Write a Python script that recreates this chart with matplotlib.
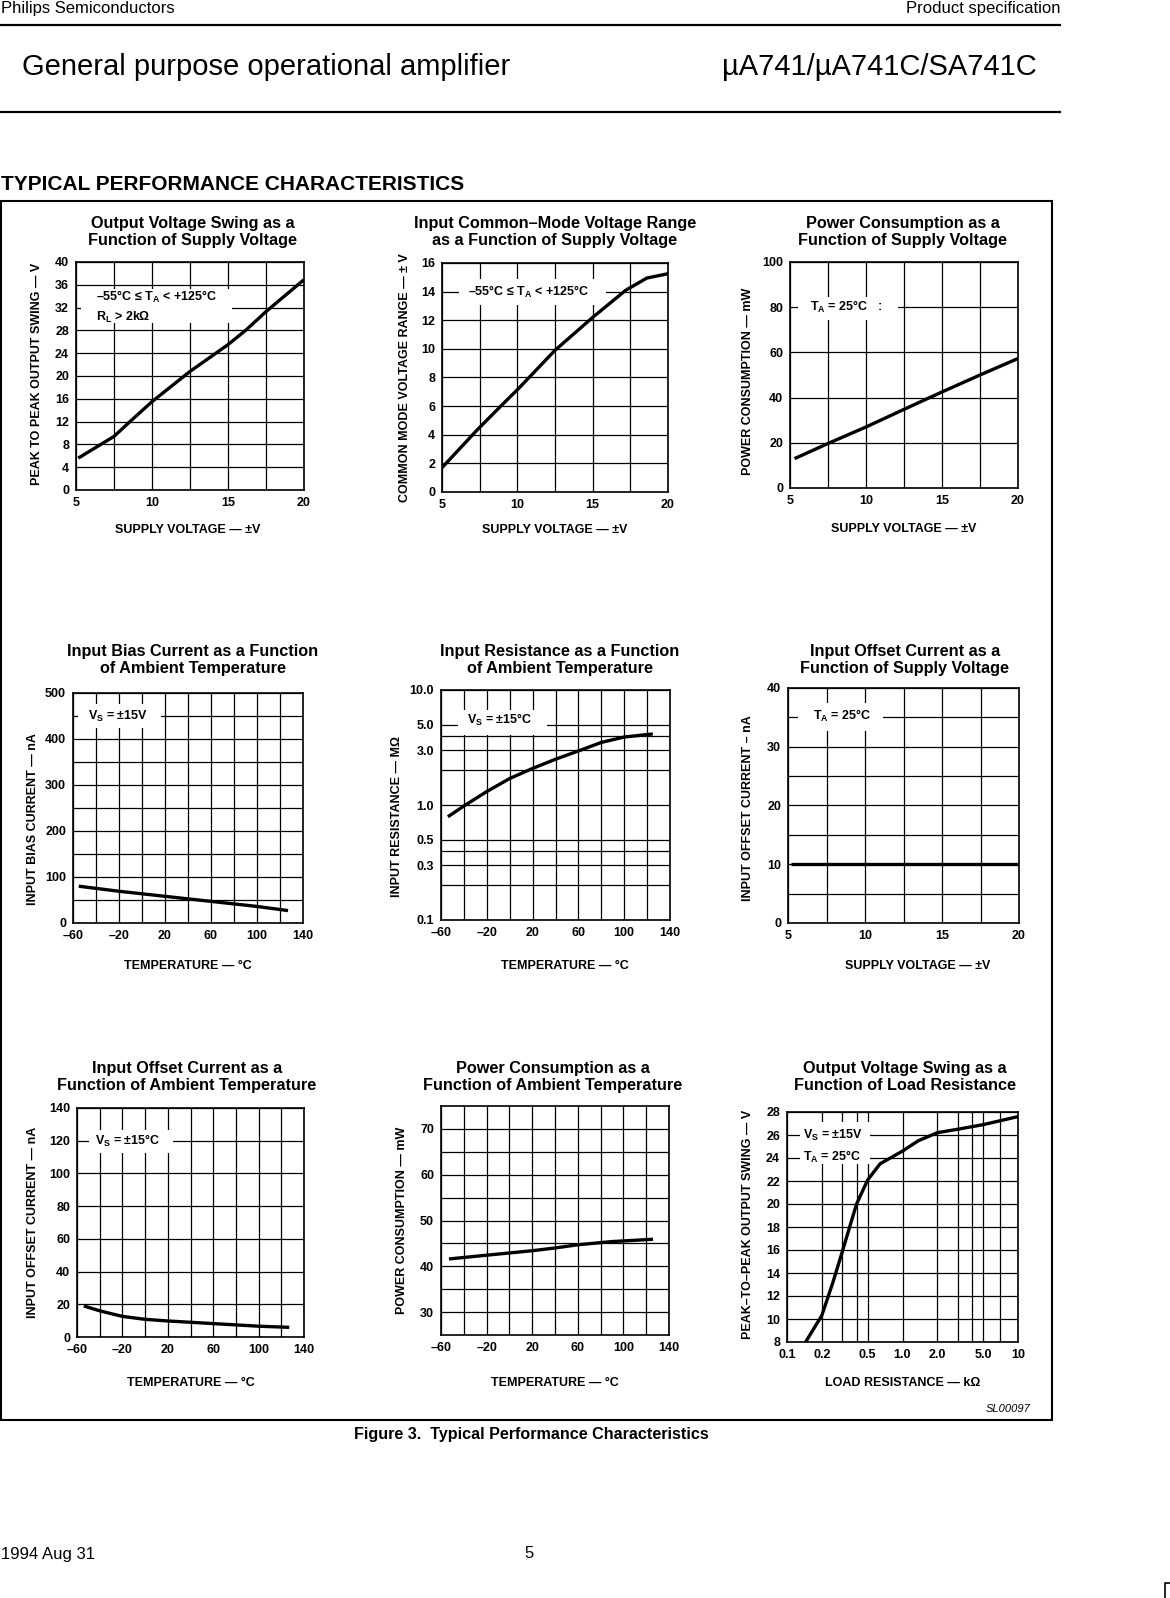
import matplotlib
matplotlib.use('Agg')
import matplotlib.pyplot as plt
from matplotlib.patches import Rectangle
from matplotlib.lines import Line2D
from matplotlib.ticker import FixedLocator, FixedFormatter, NullFormatter

plt.rcParams['font.family'] = ['Liberation Sans', 'DejaVu Sans']
plt.rcParams['font.weight'] = 'bold'
plt.rcParams['axes.labelweight'] = 'bold'
plt.rcParams['mathtext.fontset'] = 'custom'
plt.rcParams['mathtext.rm'] = 'Liberation Sans'
plt.rcParams['mathtext.bf'] = 'Liberation Sans:bold'
plt.rcParams['mathtext.it'] = 'Liberation Sans:italic'

# ---- data ----
# output swing vs supply voltage
swing_supply = [5.15, 7.5, 8.55, 10.0, 12.5, 15.0, 16.2, 17.5, 20.0]
swing_vpp = [5.6, 9.4, 12.0, 15.5, 20.8, 25.5, 28.1, 31.3, 36.9]
# common mode range vs supply voltage
cm_supply = [5.0, 7.3, 8.9, 10.1, 12.5, 15.0, 17.2, 18.6, 20.0]
cm_range = [1.7, 4.3, 6.0, 7.25, 9.9, 12.2, 14.1, 14.95, 15.25]
# power consumption vs supply voltage
pwr_supply = [5.3, 7.5, 10.0, 12.5, 15.0, 17.5, 20.0]
pwr_mw = [13.0, 19.7, 27.0, 34.8, 42.5, 50.0, 57.3]
# input bias current vs temperature
bias_temp = [-55, -20, 20, 60, 100, 127]
bias_na = [80, 69, 58, 47, 36, 27]
# input resistance vs temperature
res_temp = [-54, -40, -20, 0, 20, 40, 60, 80, 100, 125]
res_mohm = [0.79, 0.98, 1.31, 1.7, 2.08, 2.5, 2.95, 3.5, 3.9, 4.15]
# input offset current vs supply voltage
ios_supply = [5.2, 20.0]
ios_na = [10.0, 10.0]
# input offset current vs temperature
iost_temp = [-54, -40, -20, 0, 20, 60, 100, 127]
iost_na = [19.0, 16.0, 12.6, 10.8, 9.8, 8.2, 6.6, 5.9]
# power consumption vs temperature
pwrt_temp = [-53, -25, 20, 40, 60, 90, 126]
pwrt_mw = [41.6, 42.3, 43.4, 44.0, 44.7, 45.4, 45.9]
# output swing vs load resistance
load_kohm = [0.145, 0.2, 0.25, 0.3, 0.4, 0.5, 0.64, 1.0, 1.37, 2.0, 3.0, 5.0, 10.0]
load_swing = [8.0, 10.3, 13.2, 15.8, 20.0, 22.1, 23.5, 24.6, 25.5, 26.2, 26.5, 26.9, 27.6]

supply_ticks = [5, 10, 15, 20]
temp_ticks = [-60, -20, 20, 60, 100, 140]
temp_labels = ['–60', '–20', '20', '60', '100', '140']
res_ticks = [0.1, 0.3, 0.5, 1.0, 3.0, 5.0, 10.0]
res_labels = ['0.1', '0.3', '0.5', '1.0', '3.0', '5.0', '10.0']
load_ticks = [0.1, 0.2, 0.5, 1.0, 2.0, 5.0, 10.0]
load_labels = ['0.1', '0.2', '0.5', '1.0', '2.0', '5.0', '10']

W, H = 1170, 1598
fig = plt.figure(figsize=(W / 100, H / 100), dpi=100)


def fx(x):
    return x / W


def fy(y):
    return 1 - y / H


def panel(l, t, r, b):
    ax = fig.add_axes([fx(l), fy(b), (r - l) / W, (b - t) / H])
    ax.set_axisbelow(True)
    for s in ax.spines.values():
        s.set_linewidth(1.2)
    ax.tick_params(which='both', length=0, labelsize=9, pad=5)
    ax.grid(True, which='both', color='black', linewidth=0.9)
    return ax


def grid_x(ax, major, labels, lines):
    ax.xaxis.set_major_locator(FixedLocator(major))
    ax.xaxis.set_major_formatter(FixedFormatter(labels))
    ax.xaxis.set_minor_locator(FixedLocator(lines))
    ax.xaxis.set_minor_formatter(NullFormatter())


def grid_y(ax, major, labels, lines):
    ax.yaxis.set_major_locator(FixedLocator(major))
    ax.yaxis.set_major_formatter(FixedFormatter(labels))
    ax.yaxis.set_minor_locator(FixedLocator(lines))
    ax.yaxis.set_minor_formatter(NullFormatter())


def labels(ax, xl, yl, xpos, ypos):
    ax.set_xlabel(xl, fontsize=9, fontweight='bold')
    ax.set_ylabel(yl, fontsize=9, fontweight='bold')
    ax.xaxis.set_label_coords(*xpos)
    ax.yaxis.set_label_coords(*ypos)


def note(ax, x0, x1, y0, y1, txt, tx, ty, ha='center'):
    ax.add_patch(Rectangle((x0, y0), x1 - x0, y1 - y0, facecolor='white',
                           edgecolor='none', zorder=1))
    ax.text(tx, ty, txt, ha=ha, va='center', fontsize=9, zorder=4,
            linespacing=1.5)


def curve(ax, x, y):
    ax.plot(x, y, color='black', linewidth=2.4, solid_capstyle='butt',
            solid_joinstyle='round', zorder=3)


def title(cx, cy, txt):
    fig.text(fx(cx), fy(cy), txt, ha='center', va='center', fontsize=11.7,
             linespacing=1.15)


sv = 'SUPPLY VOLTAGE — ±V'
tc = 'TEMPERATURE — °C'
tas = r'T$_\mathbf{A}$'
vss = r'V$_\mathbf{S}$'

# ---- row 1 ----
ax = panel(76, 262, 304, 490)
ax.set_xlim(5, 20)
ax.set_ylim(0, 40)
grid_x(ax, supply_ticks, [str(v) for v in supply_ticks], [7.5, 10, 12.5, 15, 17.5])
grid_y(ax, list(range(0, 41, 4)), [str(v) for v in range(0, 41, 4)], list(range(4, 40, 4)))
note(ax, 5.35, 15.25, 29.3, 35.2,
     '–55°C ≤ ' + tas + ' < +125°C\nR$_\\mathbf{L}$ > 2kΩ', 6.3, 32.1, ha='left')
curve(ax, swing_supply, swing_vpp)
labels(ax, sv, 'PEAK TO PEAK OUTPUT SWING — V', (0.49, -0.149), (-0.145, 0.51))
title(193, 232, 'Output Voltage Swing as a\nFunction of Supply Voltage')

ax = panel(442, 263, 668, 492)
ax.set_xlim(5, 20)
ax.set_ylim(0, 16)
grid_x(ax, supply_ticks, [str(v) for v in supply_ticks], [7.5, 10, 12.5, 15, 17.5])
grid_y(ax, list(range(0, 17, 2)), [str(v) for v in range(0, 17, 2)], list(range(2, 16, 2)))
note(ax, 6.1, 15.9, 13.1, 14.9, '–55°C ≤ ' + tas + ' < +125°C', 10.75, 14.0)
curve(ax, cm_supply, cm_range)
labels(ax, sv, 'COMMON MODE VOLTAGE RANGE — ± V', (0.5, -0.14), (-0.137, 0.5))
title(555, 232, 'Input Common–Mode Voltage Range\nas a Function of Supply Voltage')

ax = panel(790, 262, 1018, 488)
ax.set_xlim(5, 20)
ax.set_ylim(0, 100)
grid_x(ax, supply_ticks, [str(v) for v in supply_ticks], [7.5, 10, 12.5, 15, 17.5])
grid_y(ax, list(range(0, 101, 20)), [str(v) for v in range(0, 101, 20)], [20, 40, 60, 80])
note(ax, 5.55, 12.1, 74.5, 84.5, tas + ' = 25°C   :', 8.7, 80.0)
curve(ax, pwr_supply, pwr_mw)
labels(ax, sv, 'POWER CONSUMPTION — mW', (0.5, -0.155), (-0.158, 0.47))
title(903, 232, 'Power Consumption as a\nFunction of Supply Voltage')

# ---- row 2 ----
ax = panel(73, 693, 303, 923)
ax.set_xlim(-60, 140)
ax.set_ylim(0, 500)
grid_x(ax, temp_ticks, temp_labels, list(range(-40, 140, 20)))
grid_y(ax, list(range(0, 501, 100)), [str(v) for v in range(0, 501, 100)], list(range(50, 500, 50)))
note(ax, -55.6, 16.8, 423, 477, vss + ' = ±15V', -21, 450)
curve(ax, bias_temp, bias_na)
labels(ax, tc, 'INPUT BIAS CURRENT — nA', (0.5, -0.161), (-0.148, 0.45))
title(193, 660, 'Input Bias Current as a Function\nof Ambient Temperature')

ax = panel(441, 690, 670, 920)
ax.set_yscale('log')
ax.set_xlim(-60, 140)
ax.set_ylim(0.1, 10)
grid_x(ax, temp_ticks, temp_labels, list(range(-40, 140, 20)))
grid_y(ax, res_ticks, res_labels, [0.2, 0.3, 0.4, 0.5, 1, 2, 3, 4, 5])
note(ax, -44.9, 32.3, 4.06, 6.7, vss + ' = ±15°C', -9, 5.5)
curve(ax, res_temp, res_mohm)
labels(ax, tc, 'INPUT RESISTANCE — MΩ', (0.54, -0.174), (-0.166, 0.45))
title(560, 660, 'Input Resistance as a Function\nof Ambient Temperature')

ax = panel(788, 688, 1019, 923)
ax.set_xlim(5, 20)
ax.set_ylim(0, 40)
grid_x(ax, supply_ticks, [str(v) for v in supply_ticks], [7.5, 10, 12.5, 15, 17.5])
grid_y(ax, list(range(0, 41, 10)), [str(v) for v in range(0, 41, 10)], list(range(5, 40, 5)))
note(ax, 5.65, 11.2, 32.7, 37.4, tas + ' = 25°C', 8.5, 35.3)
curve(ax, ios_supply, ios_na)
labels(ax, sv, 'INPUT OFFSET CURRENT – nA', (0.56, -0.157), (-0.147, 0.49))
title(905, 660, 'Input Offset Current as a\nFunction of Supply Voltage')

# ---- row 3 ----
ax = panel(77, 1108, 304, 1337)
ax.set_xlim(-60, 140)
ax.set_ylim(0, 140)
grid_x(ax, temp_ticks, temp_labels, list(range(-40, 140, 20)))
grid_y(ax, list(range(0, 141, 20)), [str(v) for v in range(0, 141, 20)], list(range(20, 140, 20)))
note(ax, -49.7, 25, 112.5, 126.8, vss + ' = ±15°C', -15, 120)
curve(ax, iost_temp, iost_na)
labels(ax, tc, 'INPUT OFFSET CURRENT — nA', (0.5, -0.175), (-0.167, 0.5))
title(187, 1077, 'Input Offset Current as a\nFunction of Ambient Temperature')

ax = panel(441, 1106, 669, 1335)
ax.set_xlim(-60, 140)
ax.set_ylim(25, 75)
grid_x(ax, temp_ticks, temp_labels, list(range(-40, 140, 20)))
grid_y(ax, [30, 40, 50, 60, 70], ['30', '40', '50', '60', '70'], list(range(30, 75, 5)))
curve(ax, pwrt_temp, pwrt_mw)
labels(ax, tc, 'POWER CONSUMPTION — mW', (0.5, -0.183), (-0.145, 0.5))
title(553, 1077, 'Power Consumption as a\nFunction of Ambient Temperature')

ax = panel(787, 1112, 1018, 1342)
ax.set_xscale('log')
ax.set_xlim(0.1, 10)
ax.set_ylim(8, 28)
grid_x(ax, load_ticks, load_labels, [0.2, 0.3, 0.4, 0.5, 1, 2, 3, 4, 5, 7])
grid_y(ax, list(range(8, 29, 2)), [str(v) for v in range(8, 29, 2)], list(range(10, 28, 2)))
note(ax, 0.13, 0.52, 23.5, 27.1, vss + ' = ±15V\n' + tas + ' = 25°C', 0.138, 25.0, ha='left')
curve(ax, load_kohm, load_swing)
labels(ax, 'LOAD RESISTANCE — kΩ', 'PEAK–TO–PEAK OUTPUT SWING — V', (0.5, -0.152), (-0.143, 0.51))
title(905, 1077, 'Output Voltage Swing as a\nFunction of Load Resistance')

# ---- page furniture ----
fig.text(fx(1), fy(8), 'Philips Semiconductors', ha='left', va='center',
         fontsize=12, fontweight='normal')
fig.text(fx(1060), fy(8), 'Product specification', ha='right', va='center',
         fontsize=12, fontweight='normal')
fig.add_artist(Line2D([0, fx(1060)], [fy(25), fy(25)], color='black', linewidth=1.6))
fig.text(fx(22), fy(67), 'General purpose operational amplifier', ha='left',
         va='center', fontsize=21, fontweight='normal')
fig.text(fx(1037), fy(67), 'µA741/µA741C/SA741C', ha='right', va='center',
         fontsize=21, fontweight='normal')
fig.add_artist(Line2D([0, fx(1060)], [fy(112), fy(112)], color='black', linewidth=1.6))
fig.text(fx(1), fy(184), 'TYPICAL PERFORMANCE CHARACTERISTICS', ha='left',
         va='center', fontsize=15)
fig.add_artist(Rectangle((fx(1), fy(1420)), fx(1051), (1420 - 201) / H,
                         transform=fig.transFigure, fill=False,
                         edgecolor='black', linewidth=1.5))
fig.text(fx(1031), fy(1409), 'SL00097', ha='right', va='center', fontsize=8,
         fontweight='normal', style='italic')
fig.text(fx(531), fy(1435), 'Figure 3.  Typical Performance Characteristics',
         ha='center', va='center', fontsize=11.6)
fig.text(fx(1), fy(1554), '1994 Aug 31', ha='left', va='center', fontsize=12,
         fontweight='normal')
fig.text(fx(529), fy(1553), '5', ha='center', va='center', fontsize=12,
         fontweight='normal')
fig.add_artist(Line2D([fx(1165), fx(1165), fx(1170)], [fy(1598), fy(1583), fy(1583)],
                      color='black', linewidth=1.2))

fig.savefig('out.png', dpi=100, facecolor='white')
